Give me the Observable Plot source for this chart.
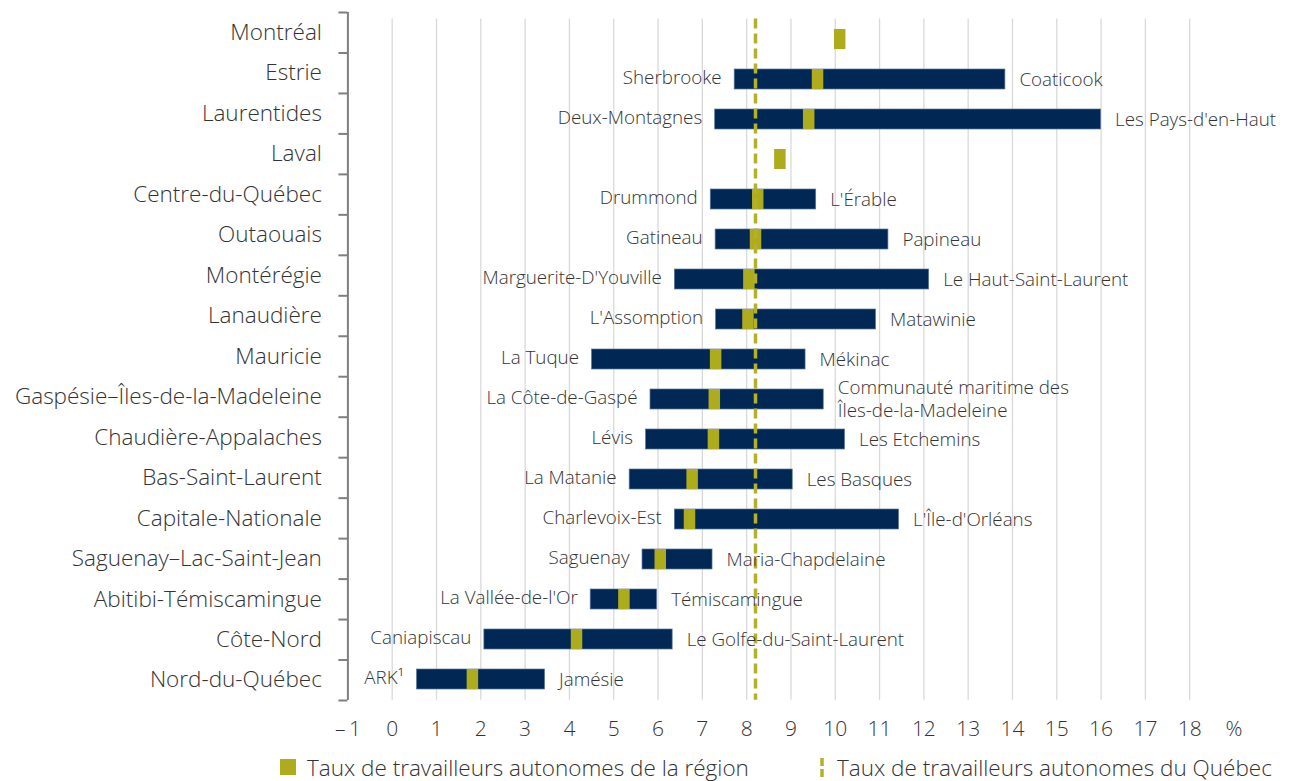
<!DOCTYPE html>
<html>
<head>
<meta charset="utf-8">
<script src="https://cdn.jsdelivr.net/npm/d3@7"></script>
<script src="https://cdn.jsdelivr.net/npm/@observablehq/plot@0.6"></script>
<style>
  body { margin: 0; background: #fff; font-family: "Open Sans", sans-serif; }
  #chart { position: relative; width: 1290px; height: 745px; }
  #chart > svg { position: absolute; left: 0; top: 0; }
  #legend { position: relative; width: 1290px; height: 36px; font-family: "Open Sans", sans-serif; font-weight: 300; font-size: 22.5px; color: #333; }
  .item { position: absolute; top: 9px; display: flex; align-items: center; height: 26px; white-space: nowrap; }
</style>
</head>
<body>
<div id="chart"></div>
<div id="legend">
  <div class="item" style="left:280px"><span style="display:inline-block;width:16px;height:16px;background:#afab1f;margin-right:11px"></span><span>Taux de travailleurs autonomes de la région</span></div>
  <div class="item" style="left:817px"><svg width="10" height="26" style="margin-right:10px"><line x1="5" x2="5" y1="4" y2="23" stroke="#b3b02a" stroke-width="3.5" stroke-dasharray="8,3"/></svg><span>Taux de travailleurs autonomes du Québec</span></div>
</div>
<script>
const regions = ["Montréal","Estrie","Laurentides","Laval","Centre-du-Québec","Outaouais","Montérégie","Lanaudière","Mauricie","Gaspésie–Îles-de-la-Madeleine","Chaudière-Appalaches","Bas-Saint-Laurent","Capitale-Nationale","Saguenay–Lac-Saint-Jean","Abitibi-Témiscamingue","Côte-Nord","Nord-du-Québec"];
const regionRate = [10.1, 9.6, 9.4, 8.75, 8.25, 8.2, 8.05, 8.03, 7.3, 7.27, 7.25, 6.77, 6.71, 6.05, 5.23, 4.16, 1.81];
const minRate = [null, 7.73, 7.29, null, 7.19, 7.3, 6.38, 7.31, 4.51, 5.83, 5.73, 5.36, 6.38, 5.65, 4.48, 2.08, 0.56];
const maxRate = [null, 13.84, 16.0, null, 9.57, 11.2, 12.12, 10.92, 9.33, 9.74, 10.22, 9.04, 11.44, 7.23, 5.98, 6.33, 3.45];
const minLabel = [null,"Sherbrooke","Deux-Montagnes",null,"Drummond","Gatineau","Marguerite-D'Youville","L'Assomption","La Tuque","La Côte-de-Gaspé","Lévis","La Matanie","Charlevoix-Est","Saguenay","La Vallée-de-l'Or","Caniapiscau","ARK¹"];
const maxLabel = [null,"Coaticook","Les Pays-d'en-Haut",null,"L'Érable","Papineau","Le Haut-Saint-Laurent","Matawinie","Mékinac","Communauté maritime des\nÎles-de-la-Madeleine","Les Etchemins","Les Basques","L'Île-d'Orléans","Maria-Chapdelaine","Témiscamingue","Le Golfe-du-Saint-Laurent","Jamésie"];
const quebecRate = 8.2;
const xTicks = d3.range(-1, 20);
const gridTicks = d3.range(0, 19);
const pctTick = 19;

const data = regions.map((r, i) => ({region: r, rate: regionRate[i], min: minRate[i], max: maxRate[i], minLabel: minLabel[i], maxLabel: maxLabel[i]}));
const ranged = data.filter(d => d.min != null);

const W = 1290, H = 745, ML = 347.4, MR = 56.5;
const NAVY = "#012854", OLIVE = "#afab1f", LINE = "#b3b02a", TXT = "#333";
const fmt = d => d === pctTick ? "%" : d < 0 ? "\u2013\u2009" + Math.abs(d) : String(d);

const plotB = Plot.plot({
  width: W, height: H,
  marginLeft: ML, marginRight: MR, marginTop: 18.5, marginBottom: 45.3,
  style: {fontFamily: "Open Sans, sans-serif", fontWeight: 300, fontSize: "21px", color: TXT, background: "white"},
  x: {domain: [-1, 19]},
  y: {type: "band", domain: regions, padding: 0, axis: null},
  marks: [
    Plot.ruleX(gridTicks, {stroke: "#d9d9d9", strokeWidth: 1.3}),
    Plot.barX(ranged, {x1: "min", x2: "max", y: "region", fill: NAVY, stroke: "#5d7797", strokeWidth: 0.7, insetTop: 10, insetBottom: 10}),
    Plot.tickX(data, {x: "rate", y: "region", stroke: OLIVE, strokeWidth: 11.5, insetTop: 10, insetBottom: 10}),
    Plot.ruleX([quebecRate], {stroke: LINE, strokeWidth: 3.5, strokeDasharray: "10,5"}),
    Plot.text(ranged, {x: "min", y: "region", text: "minLabel", textAnchor: "end", dx: -13, dy: -1.5, fontSize: 18.8, fontWeight: 300, fill: TXT}),
    Plot.text(ranged, {x: "max", y: "region", text: "maxLabel", textAnchor: "start", dx: 14, dy: -1.5, fontSize: 18.8, fontWeight: 300, fill: TXT, lineHeight: 1.25}),
    Plot.axisX(xTicks, {anchor: "bottom", tickSize: 0, tickPadding: 21, tickFormat: fmt, fontSize: 21})
  ]
});

const bandIdx = d3.range(0, regions.length + 1);
const labelPos = regions.map((_, i) => i + 0.5);
const plotA = Plot.plot({
  width: W, height: H,
  marginLeft: ML, marginRight: MR, marginTop: 12, marginBottom: 45,
  style: {fontFamily: "Open Sans, sans-serif", fontWeight: 300, fontSize: "22.5px", color: TXT, background: "none", pointerEvents: "none"},
  x: {domain: [-1, 19], axis: null},
  y: {type: "linear", domain: [0, regions.length], range: [12, 700]},
  marks: [
    Plot.ruleX([-1], {stroke: "#7f7f7f", strokeWidth: 2}),
    Plot.axisY(bandIdx, {anchor: "left", tickSize: 9, tickFormat: () => "", stroke: "#7f7f7f", strokeWidth: 2}),
    Plot.axisY(labelPos, {anchor: "left", tickSize: 0, tickPadding: 26, tickFormat: v => regions[Math.round(v - 0.5)], fontSize: 22.5, label: null})
  ]
});

const chart = document.getElementById("chart");
chart.appendChild(plotB);
chart.appendChild(plotA);
</script>
</body>
</html>
